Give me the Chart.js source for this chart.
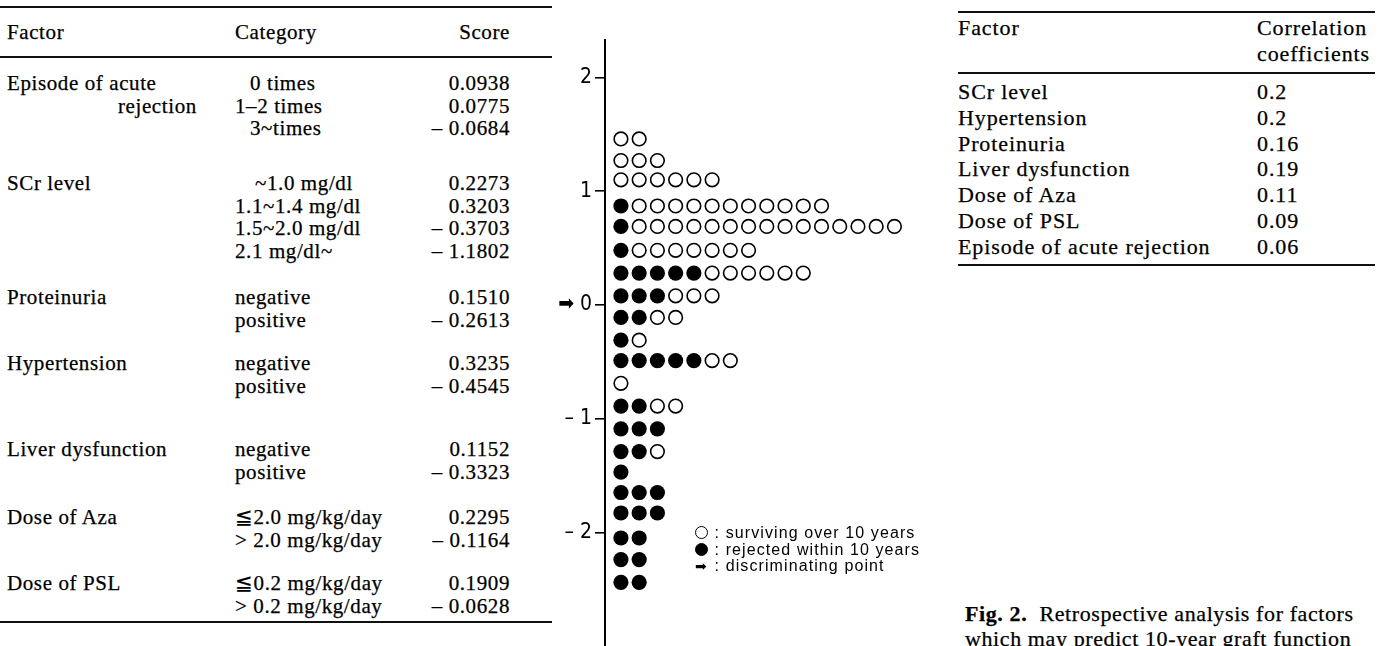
<!DOCTYPE html>
<html>
<head>
<meta charset="utf-8">
<script src="https://cdn.jsdelivr.net/npm/chart.js@4.4.1/dist/chart.umd.min.js"></script>
<style>
  html, body { margin: 0; padding: 0; background: #fff; }
  body { width: 1385px; height: 646px; position: relative; overflow: hidden; font-family: "Liberation Serif", "Times New Roman", serif; color: #000; }
  .t { position: absolute; font-size: 21px; letter-spacing: 0.6px; line-height: 22px; white-space: nowrap; -webkit-text-stroke: 0.25px #000; }
  .t.big { font-size: 22px; letter-spacing: 0.9px; }
  .r { text-align: right; }
  .rule { position: absolute; height: 0; border-top: 2px solid #111; }
  #plot { position: absolute; left: 530px; top: 0; width: 400px; height: 646px; }
  .leg { position: absolute; font-family: "Liberation Sans", "DejaVu Sans", sans-serif; font-size: 16px; letter-spacing: 1.1px; line-height: 17px; white-space: nowrap; }
  .dot { display: inline-block; width: 13px; height: 13px; border-radius: 50%; border: 1.4px solid #000; vertical-align: -1px; margin-right: 1px; box-sizing: border-box; }
  .dot.f { background: #000; }
  .cap { position: absolute; left: 965px; font-size: 22px; letter-spacing: 0.6px; line-height: 25px; white-space: nowrap; -webkit-text-stroke: 0.25px #000; }
</style>
</head>
<body>
<div id="plot"><canvas id="dotChart" width="400" height="646"></canvas></div>
<script>
// left table: scores per category
const scoreFactors = ["Episode of acute\nrejection", "SCr level", "Proteinuria", "Hypertension", "Liver dysfunction", "Dose of Aza", "Dose of PSL"];
const scoreCategories = [
  ["0 times", "1–2 times", "3~times"],
  ["~1.0 mg/dl", "1.1~1.4 mg/dl", "1.5~2.0 mg/dl", "2.1 mg/dl~"],
  ["negative", "positive"],
  ["negative", "positive"],
  ["negative", "positive"],
  ["≦2.0 mg/kg/day", "> 2.0 mg/kg/day"],
  ["≦0.2 mg/kg/day", "> 0.2 mg/kg/day"]
];
const scoreValues = [
  [0.0938, 0.0775, -0.0684],
  [0.2273, 0.3203, -0.3703, -1.1802],
  [0.1510, -0.2613],
  [0.3235, -0.4545],
  [0.1152, -0.3323],
  [0.2295, -0.1164],
  [0.1909, -0.0628]
];

// right table: correlation coefficients
const corrFactors = ["SCr level", "Hypertension", "Proteinuria", "Liver dysfunction", "Dose of Aza", "Dose of PSL", "Episode of acute rejection"];
const corrValues = [0.2, 0.2, 0.16, 0.19, 0.11, 0.09, 0.06];

// dot plot: one row per score bin
const rowScores = [1.46, 1.27, 1.10, 0.87, 0.69, 0.48, 0.28, 0.08, -0.11, -0.31, -0.49, -0.69, -0.89, -1.09, -1.29, -1.47, -1.65, -1.83, -2.05, -2.24, -2.44];
const rejectedCounts = [0, 0, 0, 1, 1, 1, 5, 3, 2, 1, 5, 0, 2, 3, 2, 1, 3, 3, 2, 2, 2];
const survivingCounts = [2, 3, 6, 11, 15, 7, 6, 3, 2, 1, 2, 1, 2, 0, 1, 0, 0, 0, 0, 0, 0];
const yTicks = [-2, -1, 0, 1, 2];

function put(text, x, y, cls, w) {
  const d = document.createElement("div");
  d.className = "t" + (cls ? " " + cls : "");
  d.textContent = text;
  d.style.top = (y - 11) + "px";
  if (cls === "r") { d.style.left = (x - w) + "px"; d.style.width = w + "px"; }
  else d.style.left = x + "px";
  document.body.appendChild(d);
}
function rule(x, y, w) {
  const d = document.createElement("div");
  d.className = "rule";
  d.style.left = x + "px"; d.style.top = y + "px"; d.style.width = w + "px";
  document.body.appendChild(d);
}
const fmt = (v) => (v < 0 ? "– " : "") + Math.abs(v).toFixed(4);

// left table
rule(0, 6, 552); rule(0, 56, 552); rule(0, 621, 552);
put("Factor", 7, 32); put("Category", 235, 32); put("Score", 510, 32, "r", 100);
const groupTop = [83, 183, 297, 363, 449, 517, 583];
const indent = { "0 times": 15, "3~times": 15, "~1.0 mg/dl": 20 };
scoreFactors.forEach((f, g) => {
  const parts = f.split("\n");
  put(parts[0], 7, groupTop[g]);
  if (parts[1]) put(parts[1], 118, groupTop[g] + 22.5);
  scoreCategories[g].forEach((c, i) => {
    const y = groupTop[g] + i * 22.5;
    put(c, 235 + (indent[c] || 0), y);
    put(fmt(scoreValues[g][i]), 510, y, "r", 120);
  });
});

// right table
rule(958, 11, 417); rule(958, 72, 417); rule(958, 264, 417);
put("Factor", 958, 28, "big"); put("Correlation", 1257, 28, "big"); put("coefficients", 1257, 54, "big");
corrFactors.forEach((f, i) => {
  const y = 92 + i * 25.8;
  put(f, 958, y, "big");
  put(String(corrValues[i]), 1257, y, "big");
});

// legend
const legendRows = [["", "surviving over 10 years"], ["f", "rejected within 10 years"], ["a", "discriminating point"]];
legendRows.forEach((r, i) => {
  const d = document.createElement("div");
  d.className = "leg";
  d.style.left = "695px";
  d.style.top = (524 + i * 16.5) + "px";
  const sym = r[0] === "a" ? '<span style="display:inline-block;width:14px;font-size:14px;letter-spacing:0">➡</span>' : '<span class="dot ' + r[0] + '"></span>';
  d.innerHTML = sym + " : " + r[1];
  document.body.appendChild(d);
});

// caption
const cap = document.createElement("div");
cap.className = "cap";
cap.style.top = "601px";
cap.innerHTML = "<b>Fig. 2.</b>&nbsp; Retrospective analysis for factors<br>which may predict 10-year graft function";
document.body.appendChild(cap);

// dot plot datasets
const rejected = [];
const surviving = [];
rowScores.forEach((s, r) => {
  for (let i = 1; i <= rejectedCounts[r]; i++) rejected.push({ x: i, y: s });
  for (let j = 1; j <= survivingCounts[r]; j++) surviving.push({ x: rejectedCounts[r] + j, y: s });
});

const ctx = document.getElementById("dotChart");
new Chart(ctx, {
  type: "scatter",
  data: {
    datasets: [
      { data: rejected, pointRadius: 7.6, pointBackgroundColor: "#000", pointBorderWidth: 0, pointBorderColor: "#000" },
      { data: surviving, pointRadius: 6.8, pointBackgroundColor: "#fff", pointBorderWidth: 1.6, pointBorderColor: "#000" }
    ]
  },
  options: {
    responsive: false,
    animation: false,
    events: [],
    layout: { autoPadding: false, padding: { top: 40, left: 0, right: 0, bottom: 0 } },
    plugins: { legend: false, tooltip: { enabled: false } },
    scales: {
      x: { type: "linear", display: false, min: 0.126, max: 17.95 },
      y: {
        type: "linear",
        min: -3,
        max: 2.33,
        afterBuildTicks: (scale) => { scale.ticks = yTicks.map((v) => ({ value: v })); },
        afterFit: (scale) => { scale.width = 75; scale.paddingTop = 0; scale.paddingBottom = 0; },
        border: { display: true, color: "#000", width: 2 },
        grid: { drawOnChartArea: false, drawTicks: true, tickLength: 10, color: "#000", lineWidth: 1.6 },
        ticks: {
          color: "#000",
          padding: 3,
          font: { family: "'Liberation Sans Narrow', 'DejaVu Sans Condensed', sans-serif", size: 21 },
          callback: (v) => (v === 0 ? "➡ 0" : v < 0 ? "– " + Math.abs(v) : String(v))
        }
      }
    }
  }
});
</script>
</body>
</html>
